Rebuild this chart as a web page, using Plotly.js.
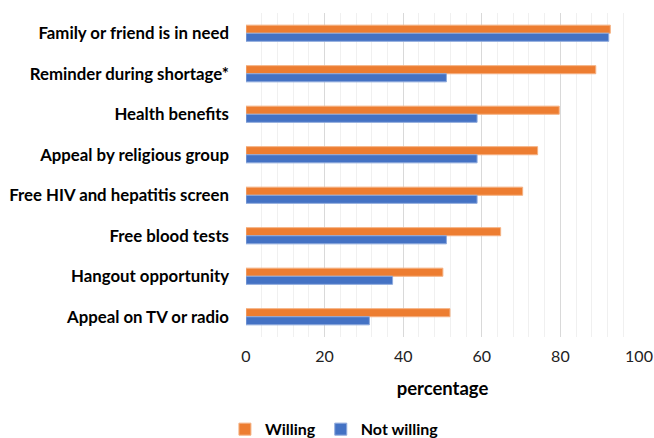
<!DOCTYPE html>
<html>
<head>
<meta charset="utf-8">
<script src="https://cdn.plot.ly/plotly-3.0.1.min.js"></script>
<style>html,body{margin:0;padding:0;background:#fff;}#chart{width:654px;height:438px;}</style>
</head>
<body>
<div id="chart"></div>
<script>
const categories = [
  "Family or friend is in need",
  "Reminder during shortage*",
  "Health benefits",
  "Appeal by religious group",
  "Free HIV and hepatitis screen",
  "Free blood tests",
  "Hangout opportunity",
  "Appeal on TV or radio"
];
const willing = [92.7, 89.0, 79.7, 74.2, 70.4, 64.8, 50.1, 51.9];
const notWilling = [92.3, 51.0, 58.8, 58.8, 58.8, 51.0, 37.3, 31.4];
const xTicks = [0, 20, 40, 60, 80, 100];

const fontFam = "Lato, 'Open Sans', sans-serif";
const traces = [
  {type:'bar', orientation:'h', name:'Willing', y:categories, x:willing,
   marker:{color:'#ED7D31', line:{color:'#F4B183', width:1}}},
  {type:'bar', orientation:'h', name:'Not willing', y:categories, x:notWilling,
   marker:{color:'#4472C4', line:{color:'#8FAADC', width:1}}}
];
const layout = {
  width:654, height:438,
  margin:{l:246, r:15, t:13, b:101, autoexpand:false},
  paper_bgcolor:'#fff', plot_bgcolor:'#fff',
  barmode:'group', bargap:0.6, bargroupgap:0,
  font:{family:fontFam, color:'#000', size:15},
  xaxis:{range:[0,100], tickvals:xTicks, ticktext:xTicks.map(String),
    showgrid:true, gridcolor:'#d9d9d9', gridwidth:1, zeroline:false,
    minor:{dtick:4, showgrid:true, gridcolor:'#f0f0f0', gridwidth:1},
    tickfont:{size:16, color:'#222'}, ticks:'', showline:false,
    ticklabelstandoff:8, automargin:false,
    title:{text:'<b>percentage</b>', font:{size:18.5}, standoff:18}},
  yaxis:{autorange:'reversed', showgrid:false, zeroline:false, ticks:'',
    ticklabelstandoff:16, automargin:false, tickfont:{size:16.8, weight:'bold'}},
  showlegend:true,
  legend:{orientation:'h', x:0.225, xanchor:'center', yref:'container', y:0.02, yanchor:'middle',
    font:{size:16, weight:'bold'}, traceorder:'normal', itemwidth:30}
};
Plotly.newPlot('chart', traces, layout, {displayModeBar:false, staticPlot:true});
</script>
</body>
</html>
